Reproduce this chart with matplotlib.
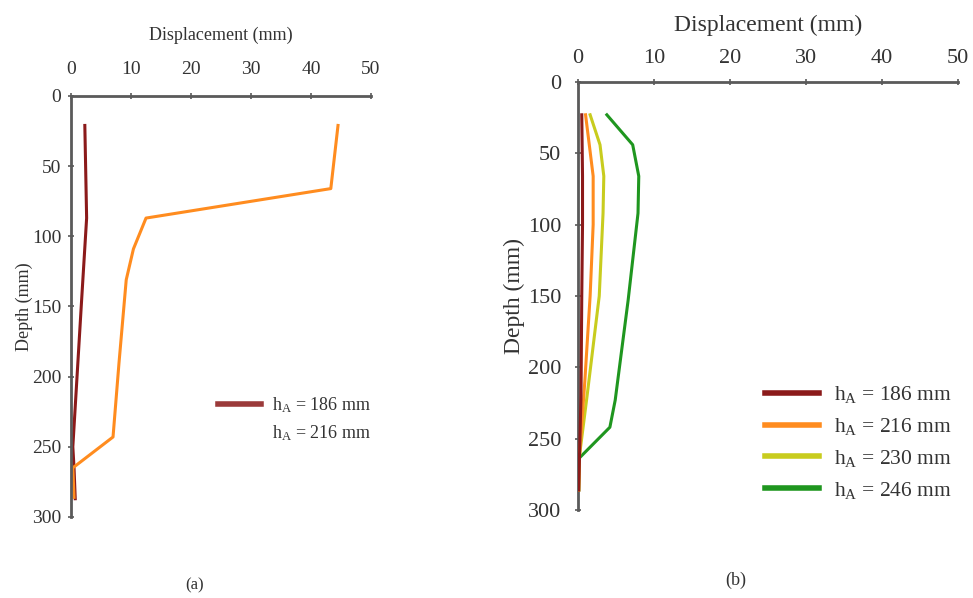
import matplotlib
matplotlib.use('Agg')
import matplotlib.pyplot as plt

# fonts: serif like the paper figure
plt.rcParams['font.family'] = ['Liberation Serif', 'DejaVu Serif']
plt.rcParams['mathtext.fontset'] = 'custom'
plt.rcParams['mathtext.rm'] = 'Liberation Serif'
plt.rcParams['mathtext.it'] = 'Liberation Serif'

# data (displacement mm vs depth mm)
# panel (a)
a_186_disp = [2.3, 2.6, 1.7, 1.0, 0.3, 0.5, 0.7]
a_186_depth = [21, 87, 150, 200, 250, 265, 287]
a_216_disp = [44.5, 43.3, 12.5, 10.4, 9.2, 8.0, 7.0, 0.3, 0.5]
a_216_depth = [21, 66, 87, 109, 131, 190, 243, 265, 286]

# panel (b)
b_186_disp = [0.5, 0.6, 0.6, 0.5, 0.4, 0.2, 0.1]
b_186_depth = [23, 66, 100, 150, 220, 262, 286]
b_216_disp = [1.0, 2.0, 2.0, 1.6, 0.9, 0.2, 0.1]
b_216_depth = [23, 66, 100, 150, 210, 262, 286]
b_230_disp = [1.6, 2.9, 3.4, 3.3, 2.8, 1.2, 0.2, 0.1]
b_230_depth = [23, 44, 66, 92, 150, 220, 262, 286]
b_246_disp = [3.8, 7.2, 8.0, 7.9, 6.6, 4.9, 4.2, 0.1, 0.1]
b_246_depth = [23, 44, 66, 92, 153, 223, 242, 264, 286]

labels = ['h$_{\\mathrm{A}}$ = 186 mm', 'h$_{\\mathrm{A}}$ = 216 mm',
          'h$_{\\mathrm{A}}$ = 230 mm', 'h$_{\\mathrm{A}}$ = 246 mm']
colors = ['#8b1a1a', '#ff8c1f', '#c8cc1e', '#1f961f']
x_ticks = [0, 10, 20, 30, 40, 50]
y_ticks = [0, 50, 100, 150, 200, 250, 300]

txt = '#333333'
spine_c = '#5a5a5a'

fig = plt.figure(figsize=(9.73, 5.98), dpi=100)
ax1 = fig.add_axes([0.073, 0.1355, 0.3083, 0.704])
ax2 = fig.add_axes([0.594, 0.1472, 0.3906, 0.7157])


def style(ax, fs, lab_fs, xpad, ypad, xtpad, ytpad):
    ax.set_xlim(0, 50)
    ax.set_ylim(300, 0)
    ax.set_xticks(x_ticks)
    ax.set_yticks(y_ticks)
    ax.xaxis.tick_top()
    ax.xaxis.set_label_position('top')
    for s in ['right', 'bottom']:
        ax.spines[s].set_visible(False)
    for s in ['top', 'left']:
        ax.spines[s].set_color(spine_c)
        ax.spines[s].set_linewidth(2.0)
    ax.tick_params(direction='inout', length=4, width=1.2, color=spine_c,
                   labelsize=fs, labelcolor=txt)
    ax.tick_params(axis='x', pad=xtpad)
    ax.tick_params(axis='y', pad=ytpad)
    ax.set_xlabel('Displacement (mm)', fontsize=lab_fs, color=txt, labelpad=xpad)
    ax.set_ylabel('Depth (mm)', fontsize=lab_fs, color=txt, labelpad=ypad)


style(ax1, 14, 13, 15, -1, 11, 5)
style(ax2, 16, 17, 13, 2, 8, 10)

lw = 2.2
ax1.plot(a_186_disp, a_186_depth, color=colors[0], lw=lw)
ax1.plot(a_216_disp, a_216_depth, color=colors[1], lw=lw)

ax2.plot(b_186_disp, b_186_depth, color=colors[0], lw=lw, label=labels[0], zorder=5)
ax2.plot(b_216_disp, b_216_depth, color=colors[1], lw=lw, label=labels[1], zorder=4)
ax2.plot(b_230_disp, b_230_depth, color=colors[2], lw=lw, label=labels[2], zorder=3)
ax2.plot(b_246_disp, b_246_depth, color=colors[3], lw=lw, label=labels[3], zorder=2)

# legend (a): the second handle is not visible in the original
h1 = plt.Line2D([], [], color='#9b3a3a', lw=4)
h2 = plt.Line2D([], [], color=colors[1], lw=4, alpha=0)
leg1 = fig.legend([h1, h2], labels[:2], loc='center left',
                  bbox_to_anchor=(0.224, 0.299), frameon=False,
                  fontsize=13, handlelength=2.4, handletextpad=0.6,
                  labelspacing=0.45, borderpad=0, borderaxespad=0)
for t in leg1.get_texts():
    t.set_color(txt)

leg2 = fig.legend(loc='center left', bbox_to_anchor=(0.786, 0.2600),
                  frameon=False, fontsize=15.5, handlelength=2.5,
                  handletextpad=0.7, labelspacing=0.5, borderpad=0,
                  borderaxespad=0)
for line in leg2.get_lines():
    line.set_linewidth(4)
for t in leg2.get_texts():
    t.set_color(txt)

fig.text(195 / 973, 1 - 585 / 598, '(a)', fontsize=12, color=txt,
         ha='center', va='center')
fig.text(736 / 973, 1 - 580 / 598, '(b)', fontsize=13, color=txt,
         ha='center', va='center')

fig.savefig('out.png', dpi=100)
